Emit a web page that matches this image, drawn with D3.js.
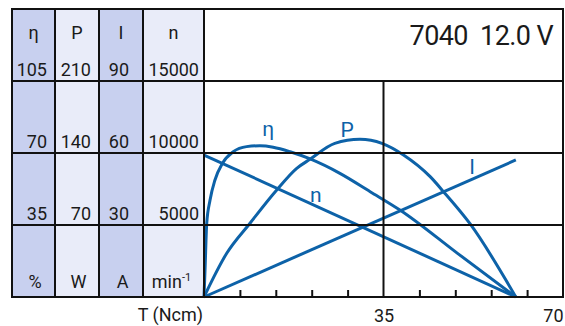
<!DOCTYPE html>
<html>
<head>
<meta charset="utf-8">
<script src="https://cdn.jsdelivr.net/npm/d3@7"></script>
<style>
  body { margin: 0; background: #fff; }
  text { font-family: Roboto, "Noto Sans", sans-serif; fill: #1a1a1a; }
</style>
</head>
<body>
<svg width="565" height="326"></svg>
<script>
// ---- data ----
var headers = ["η", "P", "I", "n"];
var units = ["%", "W", "A", "min"];
var etaTicks = [105, 70, 35];
var powerTicks = [210, 140, 70];
var currentTicks = [90, 60, 30];
var speedTicks = [15000, 10000, 5000];
var torqueTicks = [0, 7, 14, 21, 28, 35, 42, 49, 56, 63, 70];
var torqueLabels = [35, 70];

var etaTorque = [0, 0.2, 0.53, 1.17, 2.14, 3.6, 5.7, 8.3, 10.9, 13.5, 16.8, 20.7, 26.5, 32.4, 38.2, 49.5, 60.8];
var etaValues = [0, 13, 35.8, 47, 56.9, 65, 70.6, 73.1, 73.5, 72.8, 70.6, 67.1, 60.1, 51.2, 42.3, 21.1, 0];

var powerTorque = [0, 4.43, 8.97, 14.18, 18.08, 20.67, 25.5, 30.4, 34.7, 38.9, 44.1, 46.7, 51.9, 60.8];
var powerValues = [0, 42.5, 71.7, 104.0, 125.1, 133.9, 149.4, 153.3, 149.4, 138.1, 117.0, 102.4, 71.0, 0];

var speedTorque = [0, 60.8];
var speedValues = [9860, 0];

var currentTorque = [0, 60.8];
var currentValues = [0, 57.1];

var title = "7040  12.0 V";

// ---- layout ----
var svg = d3.select("svg");
var leftX = 12, plotLeft = 204, rightX = 563, topY = 9, bottomY = 297;
var colEdges = [12, 55, 99, 143, 204];
var numRight = [47, 91, 129, 199];
var colFill = ["#c8d0ef", "#e9ecf9", "#c8d0ef", "#e9ecf9"];
var blue = "#0d62a8";

var x = d3.scaleLinear().domain([0, 70]).range([plotLeft, rightX]);
var yEta = d3.scaleLinear().domain([0, 105]).range([bottomY, 81]);
var yP = d3.scaleLinear().domain([0, 210]).range([bottomY, 81]);
var yI = d3.scaleLinear().domain([0, 90]).range([bottomY, 81]);
var yN = d3.scaleLinear().domain([0, 15000]).range([bottomY, 81]);
var tickScales = [yEta, yP, yI, yN];
var tickSets = [etaTicks, powerTicks, currentTicks, speedTicks];

// column shading
svg.selectAll("rect.col")
  .data(colFill)
  .enter().append("rect")
  .attr("class", "col")
  .attr("x", (d, i) => colEdges[i])
  .attr("y", topY)
  .attr("width", (d, i) => colEdges[i + 1] - colEdges[i])
  .attr("height", bottomY - topY)
  .style("fill", d => d);

// curves
var curves = [
  { t: etaTorque, v: etaValues, y: yEta },
  { t: powerTorque, v: powerValues, y: yP },
  { t: speedTorque, v: speedValues, y: yN },
  { t: currentTorque, v: currentValues, y: yI }
];
curves.forEach(function(c) {
  var pts = c.t.map((t, i) => [t, c.v[i]]);
  var line = d3.line()
    .x(d => x(d[0]))
    .y(d => c.y(d[1]))
    .curve(d3.curveMonotoneX);
  svg.append("path")
    .attr("d", line(pts))
    .style("fill", "none")
    .style("stroke", blue)
    .style("stroke-width", 3)
    .style("stroke-linejoin", "round");
});

// grid
var grid = svg.append("g").style("stroke", "#111").style("stroke-width", 2);
[81, 153, 225].forEach(function(v) {
  grid.append("line").attr("x1", leftX).attr("x2", rightX).attr("y1", v).attr("y2", v);
});
colEdges.forEach(function(v) {
  grid.append("line").attr("x1", v).attr("x2", v).attr("y1", topY).attr("y2", bottomY);
});
grid.append("line").attr("x1", x(35)).attr("x2", x(35)).attr("y1", 81).attr("y2", bottomY);
grid.append("rect")
  .attr("x", leftX).attr("y", topY)
  .attr("width", rightX - leftX).attr("height", bottomY - topY)
  .style("fill", "none");

// torque axis
var axis = svg.append("g")
  .attr("transform", "translate(0," + bottomY + ")")
  .call(d3.axisBottom(x).tickValues(torqueTicks).tickSize(-7).tickPadding(12)
    .tickFormat(d => torqueLabels.indexOf(d) >= 0 ? d : ""));
axis.select(".domain").remove();
axis.selectAll(".tick line").style("stroke", "#111").style("stroke-width", 2)
  .filter(d => d === 0 || d === 35 || d === 70).remove();
axis.selectAll(".tick text")
  .style("font-size", "18px")
  .style("fill", "#1a1a1a")
  .attr("font-family", null)
  .attr("y", 25).attr("dy", null)
  .attr("text-anchor", d => d === 70 ? "end" : "middle");
svg.append("text")
  .attr("x", plotLeft - 1).attr("y", 321)
  .attr("text-anchor", "end")
  .style("font-size", "18px")
  .text("T (Ncm)");

// table headers
svg.selectAll("text.hdr")
  .data(headers)
  .enter().append("text")
  .attr("x", (d, i) => (colEdges[i] + colEdges[i + 1]) / 2)
  .attr("y", 38.5)
  .attr("text-anchor", "middle")
  .style("font-size", "18px")
  .text(d => d);

// table tick values
tickSets.forEach(function(ticks, i) {
  svg.selectAll("text.num" + i)
    .data(ticks)
    .enter().append("text")
    .attr("x", numRight[i])
    .attr("y", d => tickScales[i](d) - 5)
    .attr("text-anchor", "end")
    .style("font-size", "18px")
    .text(d => d);
});

// units
var u = svg.selectAll("text.unit")
  .data(units)
  .enter().append("text")
  .attr("x", (d, i) => (colEdges[i] + colEdges[i + 1]) / 2 + (i === 3 ? -2 : 1.5))
  .attr("y", 288)
  .attr("text-anchor", "middle")
  .style("font-size", "18px");
u.append("tspan").text(d => d);
u.filter(d => d === "min").append("tspan")
  .attr("dy", -7).style("font-size", "11px").text("-1");

// title
svg.append("text")
  .attr("x", 553).attr("y", 45)
  .attr("text-anchor", "end")
  .style("white-space", "pre")
  .style("font-size", "27px")
  .style("letter-spacing", "-0.6px")
  .text(title);

// curve labels (placed in data coordinates)
var labels = [
  { text: "η", t: 12.5, y: yEta(78.5) },
  { text: "P", t: 27.9, y: yP(155.6) },
  { text: "n", t: 21.8, y: yN(6600) },
  { text: "I", t: 52.3, y: yI(51.3) }
];
svg.selectAll("text.lbl")
  .data(labels)
  .enter().append("text")
  .attr("x", d => x(d.t))
  .attr("y", d => d.y)
  .attr("text-anchor", "middle")
  .style("font-size", "21px")
  .style("fill", blue)
  .text(d => d.text);
</script>
</body>
</html>
